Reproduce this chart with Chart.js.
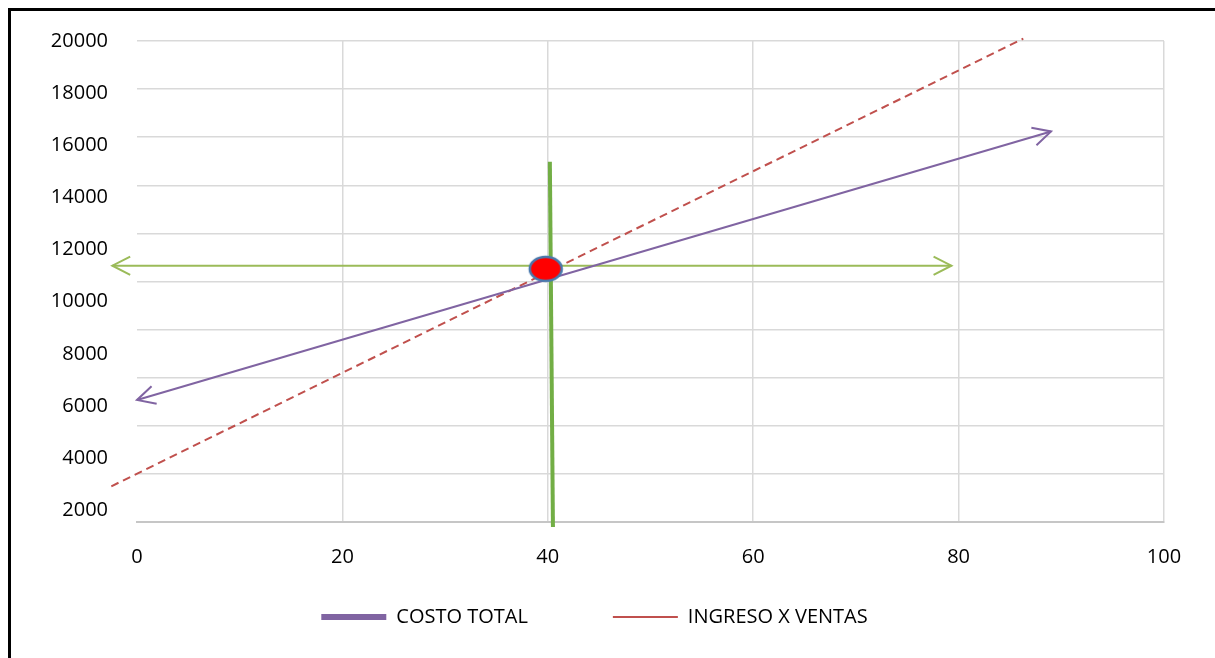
<!DOCTYPE html>
<html>
<head>
<meta charset="utf-8">
<title>Punto de equilibrio</title>
<script src="https://cdn.jsdelivr.net/npm/chart.js@4.4.1/dist/chart.umd.min.js"></script>
<style>
  body { margin: 0; background: #fff; }
  #frame {
    position: absolute;
    left: 8px;
    top: 8px;
    width: 1300px;
    height: 800px;
    border-left: 3px solid #000;
    border-top: 3px solid #000;
  }
  #chart { position: absolute; left: 0; top: 0; }
</style>
</head>
<body>
<div id="frame"></div>
<canvas id="chart" width="1215" height="658"></canvas>
<script>
// Datos
const xTicks = [0, 20, 40, 60, 80, 100];
const yTicks = [2000, 4000, 6000, 8000, 10000, 12000, 14000, 16000, 18000, 20000];

const costoX = [0, 89];
const costoY = [6230, 16530];

const ingresoX = [-2.5, 86.3];
const ingresoY = [2920, 20090];

// lineas de equilibrio (verde)
const equilibrioHX = [-2.4, 79.3];
const equilibrioHY = [11380, 11380];
const equilibrioVX = [40.2, 40.5];
const equilibrioVY = [15370, 1360];

// punto de equilibrio
const puntoX = [39.8];
const puntoY = [11260];

const legendNames = ['COSTO TOTAL', 'INGRESO X VENTAS'];

function toPoints(xs, ys) {
    return xs.map((x, i) => ({ x: x, y: ys[i] }));
}

// marcador ovalado rojo
function makeOval() {
    const c = document.createElement('canvas');
    c.width = 38;
    c.height = 30;
    const g = c.getContext('2d');
    g.beginPath();
    g.ellipse(19, 15, 16, 12, 0, 0, Math.PI * 2);
    g.fillStyle = '#ff0000';
    g.fill();
    g.lineWidth = 2.5;
    g.strokeStyle = '#4a79ad';
    g.stroke();
    return c;
}

function drawChevron(ctx, tipX, tipY, fromX, fromY, color, width) {
    const ang = Math.atan2(tipY - fromY, tipX - fromX);
    const len = 20;
    const spread = 0.47;
    ctx.save();
    ctx.strokeStyle = color;
    ctx.lineWidth = width;
    ctx.beginPath();
    ctx.moveTo(tipX - len * Math.cos(ang - spread), tipY - len * Math.sin(ang - spread));
    ctx.lineTo(tipX, tipY);
    ctx.lineTo(tipX - len * Math.cos(ang + spread), tipY - len * Math.sin(ang + spread));
    ctx.stroke();
    ctx.restore();
}

// flechas en los extremos de las lineas
const arrowPlugin = {
    id: 'arrowHeads',
    afterDatasetsDraw(chart) {
        const ctx = chart.ctx;
        chart.data.datasets.forEach((ds, i) => {
            if (!ds.arrows) return;
            const pts = chart.getDatasetMeta(i).data;
            const a = pts[0];
            const b = pts[pts.length - 1];
            drawChevron(ctx, a.x, a.y, b.x, b.y, ds.borderColor, ds.borderWidth);
            drawChevron(ctx, b.x, b.y, a.x, a.y, ds.borderColor, ds.borderWidth);
        });
    }
};

const font = { family: 'Open Sans', size: 20 };

new Chart(document.getElementById('chart'), {
    type: 'scatter',
    data: {
        datasets: [
            {
                label: 'Punto',
                data: toPoints(puntoX, puntoY),
                pointStyle: makeOval(),
                pointRadius: 14,
                order: 0
            },
            {
                label: legendNames[0],
                data: toPoints(costoX, costoY),
                showLine: true,
                borderColor: '#8064a2',
                borderWidth: 2,
                pointRadius: 0,
                arrows: true,
                clip: false,
                order: 1
            },
            {
                label: legendNames[1],
                data: toPoints(ingresoX, ingresoY),
                showLine: true,
                borderColor: '#c0504d',
                borderWidth: 2,
                borderDash: [8, 5],
                pointRadius: 0,
                clip: false,
                order: 2
            },
            {
                label: 'Equilibrio H',
                data: toPoints(equilibrioHX, equilibrioHY),
                showLine: true,
                borderColor: '#9bbb59',
                borderWidth: 2,
                pointRadius: 0,
                arrows: true,
                clip: false,
                order: 3
            },
            {
                label: 'Equilibrio V',
                data: toPoints(equilibrioVX, equilibrioVY),
                showLine: true,
                borderColor: '#72ae45',
                borderWidth: 4,
                pointRadius: 0,
                clip: false,
                order: 4
            }
        ]
    },
    options: {
        responsive: false,
        animation: false,
        layout: {
            padding: { left: 25, right: 51, top: 41, bottom: 21 }
        },
        scales: {
            x: {
                type: 'linear',
                min: 0,
                max: 100,
                afterBuildTicks: scale => { scale.ticks = xTicks.map(v => ({ value: v })); },
                afterFit: scale => { scale.height = 0; },
                // mirror evita el recorte de etiquetas con altura 0
                ticks: { font: font, color: '#000', mirror: true, padding: -47, callback: v => String(v) },
                grid: {
                    drawTicks: false,
                    lineWidth: 1.5,
                    color: ctx => ctx.index === 0 ? 'rgba(0,0,0,0)' : '#d9d9d9'
                },
                border: { color: '#c6c6c6', width: 2 }
            },
            y: {
                type: 'linear',
                position: 'left',
                min: 1550,
                max: 20000,
                afterBuildTicks: scale => { scale.ticks = yTicks.map(v => ({ value: v })); },
                afterFit: scale => { scale.width = 112; },
                ticks: { font: font, color: '#000', padding: 29, callback: v => String(v) },
                grid: { display: false, drawTicks: false },
                border: { display: false }
            },
            yGrid: {
                type: 'linear',
                position: 'left',
                min: 0,
                max: 20000,
                ticks: { display: false, stepSize: 2000 },
                afterFit: scale => { scale.width = 0; },
                grid: { color: '#d9d9d9', lineWidth: 1.5, drawTicks: false },
                border: { display: false }
            }
        },
        plugins: {
            tooltip: { enabled: false },
            legend: {
                position: 'bottom',
                labels: {
                    usePointStyle: true,
                    pointStyleWidth: 65,
                    padding: 85,
                    font: font,
                    color: '#000',
                    generateLabels: chart => {
                        const ds = chart.data.datasets;
                        return [
                            { text: legendNames[0], pointStyle: 'line', strokeStyle: ds[1].borderColor, fillStyle: ds[1].borderColor, lineWidth: 6, lineDash: [], datasetIndex: 1, hidden: false, fontColor: '#000' },
                            { text: legendNames[1], pointStyle: 'line', strokeStyle: ds[2].borderColor, fillStyle: ds[2].borderColor, lineWidth: 2, lineDash: [], datasetIndex: 2, hidden: false, fontColor: '#000' }
                        ];
                    }
                }
            }
        }
    },
    plugins: [arrowPlugin]
});
</script>
</body>
</html>
